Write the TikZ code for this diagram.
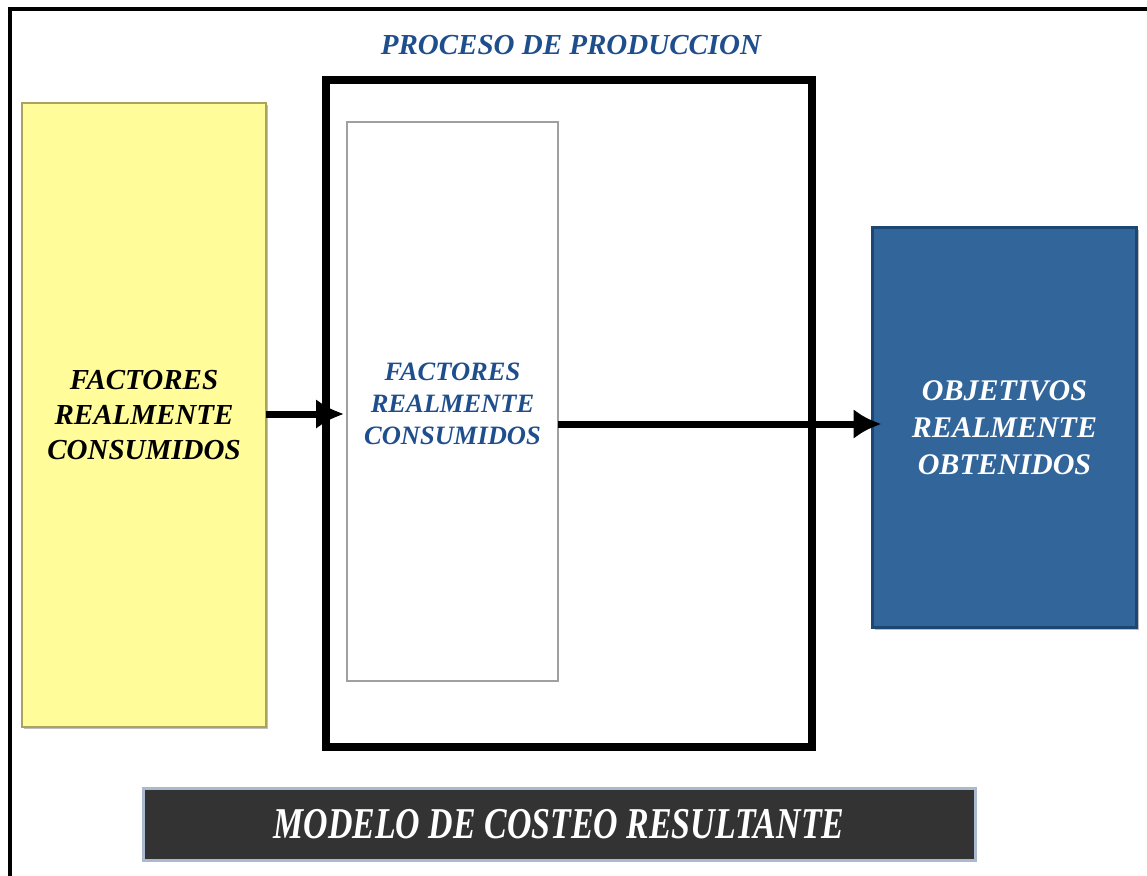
\documentclass[tikz,border=0pt]{standalone}
\usepackage{fontspec}
\setmainfont{Liberation Serif}
\usetikzlibrary{arrows.meta,shadows}
\definecolor{yelfill}{RGB}{255,252,153}
\definecolor{yeldraw}{RGB}{168,164,96}
\definecolor{bluefill}{RGB}{50,101,154}
\definecolor{bluedraw}{RGB}{30,70,115}
\definecolor{txtblue}{RGB}{31,78,140}
\definecolor{banfill}{RGB}{51,51,51}
\definecolor{bandraw}{RGB}{170,185,205}
\definecolor{innerdraw}{RGB}{160,160,160}
\tikzset{
  base/.style={rectangle, inner sep=0pt, outer sep=0pt, align=center},
  shad/.style={drop shadow={shadow xshift=2pt, shadow yshift=-2pt, opacity=0.25, fill=black}},
  yelbox/.style={base, shad, fill=yelfill, draw=yeldraw, line width=2.5pt,
    font=\bfseries\itshape\fontsize{29}{35}\selectfont},
  innerbox/.style={base, fill=white, draw=innerdraw, line width=2.5pt},
  innertext/.style={base, text=txtblue,
    font=\bfseries\itshape\fontsize{26.5}{32}\selectfont},
  framebox/.style={base, shad, fill=white, draw=black, line width=8pt},
  bluebox/.style={base, shad, fill=bluefill, draw=bluedraw, line width=2.5pt, text=white,
    font=\bfseries\itshape\fontsize{30}{37}\selectfont},
  banbox/.style={base, fill=banfill, draw=bandraw, line width=3pt, text=white,
    font=\bfseries\itshape\fontsize{44}{50}\selectfont},
  titletxt/.style={base, text=txtblue, font=\bfseries\itshape\fontsize{29}{34}\selectfont},
  flow/.style={line width=7pt, -{Latex[length=28pt,width=30pt]}}
}
\begin{document}
\begin{tikzpicture}[x=1pt,y=-1pt]
\useasboundingbox (0,0) rectangle (1147,875);
\fill[white] (0,0) rectangle (1147,875);
% outer frame (left and top edges visible)
\draw[line width=3.5pt] (10,880) -- (10,9) -- (1152,9);

\node[framebox, minimum width=486pt, minimum height=667pt] (frame) at (569,413.5) {};
\node[titletxt] (title) at (571,45) {PROCESO DE PRODUCCION};

\node[yelbox, minimum width=244pt, minimum height=624pt] (fac) at (144,415)
  {FACTORES\\REALMENTE\\CONSUMIDOS};
\node[innerbox, minimum width=211pt, minimum height=559pt] (inner) at (452.5,401.5) {};
\node[innertext] (innertxt) at (452.5,404) {FACTORES\\REALMENTE\\CONSUMIDOS};
\node[bluebox, minimum width=264pt, minimum height=400pt] (obj) at (1004.5,427.5)
  {OBJETIVOS\\REALMENTE\\OBTENIDOS};
\node[banbox, minimum width=832pt, minimum height=72pt] (ban) at (559,824)
  {\scalebox{0.77}[1]{MODELO DE COSTEO RESULTANTE}};

\draw[flow, shorten >=3pt] (fac.east |- 0,414) -- (inner.west |- 0,414);
\draw[flow, shorten >=-9pt] (inner.east |- 0,424) -- (obj.west |- 0,424);
\end{tikzpicture}
\end{document}
